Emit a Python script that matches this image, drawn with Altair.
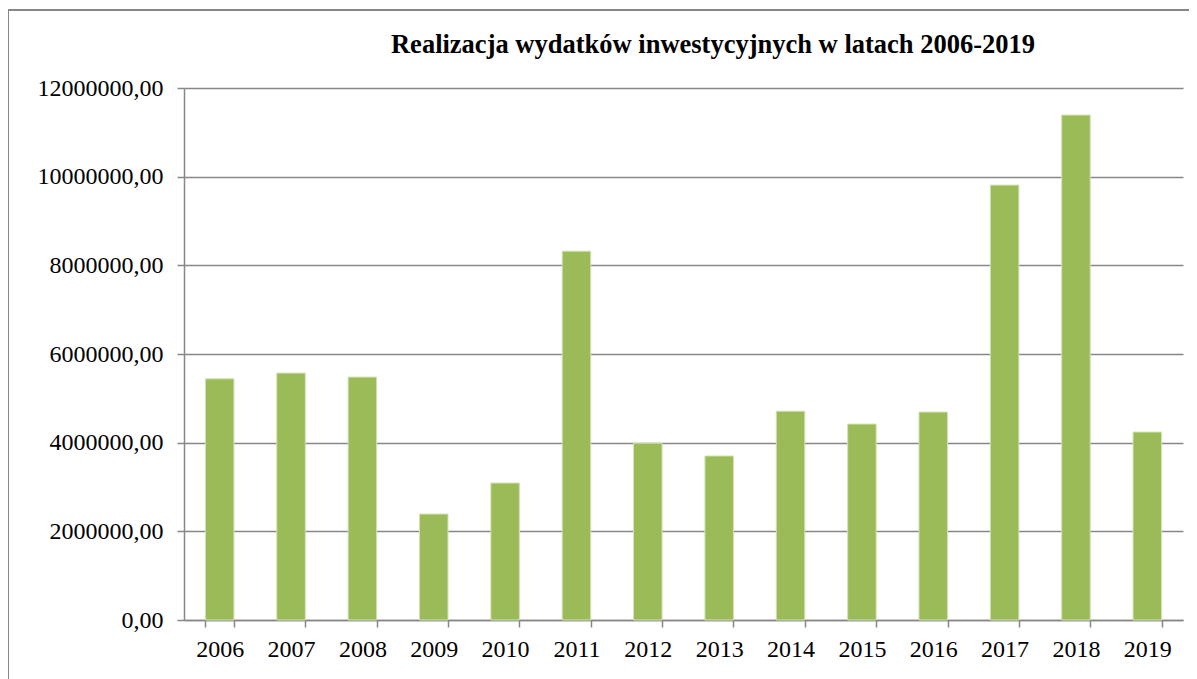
import altair as alt
import pandas as pd

years = ["2006", "2007", "2008", "2009", "2010", "2011", "2012",
         "2013", "2014", "2015", "2016", "2017", "2018", "2019"]
values = [5440000, 5570000, 5480000, 2390000, 3090000, 8320000, 3990000,
          3700000, 4710000, 4420000, 4690000, 9810000, 11390000, 4240000]
y_ticks = [0, 2000000, 4000000, 6000000, 8000000, 10000000, 12000000]
title_text = "Realizacja wydatków inwestycyjnych w latach 2006-2019"

df = pd.DataFrame({"year": years, "value": values})

FONT = "Liberation Serif"
GRAY = "#878787"

bars = alt.Chart(df).mark_bar(color="#9BBB59", stroke="#D4E2B6", strokeWidth=1).encode(
    x=alt.X("year:N", sort=years,
            scale=alt.Scale(paddingInner=0.6, paddingOuter=0.3),
            axis=alt.Axis(title=None, labelAngle=0, tickBand="extent",
                          domainColor=GRAY, domainWidth=1.5,
                          tickColor=GRAY, tickWidth=1.5, tickSize=7,
                          labelFont=FONT, labelFontSize=24, labelColor="#000000",
                          labelPadding=10, grid=False)),
    y=alt.Y("value:Q",
            scale=alt.Scale(domain=[0, 12000000], nice=False),
            axis=alt.Axis(title=None, values=y_ticks,
                          labelExpr="replace(format(datum.value, '.2f'), '.', ',')",
                          domainColor=GRAY, domainWidth=1.5,
                          tickColor=GRAY, tickWidth=1.5, tickSize=7,
                          gridColor=GRAY, gridWidth=1.5,
                          labelFont=FONT, labelFontSize=24, labelColor="#000000",
                          labelPadding=14)),
)

one = pd.DataFrame({"k": [0]})
frame = alt.Chart(one).mark_rule(color=GRAY, strokeWidth=2).encode(
    x=alt.value(-176), x2=alt.value(1010), y=alt.value(-78)
) + alt.Chart(one).mark_rule(color=GRAY, strokeWidth=2).encode(
    x=alt.value(-176), y=alt.value(-78), y2=alt.value(600)
)

title = alt.Chart(pd.DataFrame({"t": [title_text]})).mark_text(
    font=FONT, fontSize=26.5, fontWeight="bold", color="#000000",
    align="center", baseline="alphabetic"
).encode(text="t:N", x=alt.value(529), y=alt.value(-35))

chart = (frame + title + bars).properties(
    width=999, height=532,
    autosize=alt.AutoSizeParams(type="none"),
    padding={"left": 176, "top": 80, "right": 6, "bottom": 60},
).configure_view(stroke=None)

chart.save("out.html", embed_options={"renderer": "svg", "actions": False})
